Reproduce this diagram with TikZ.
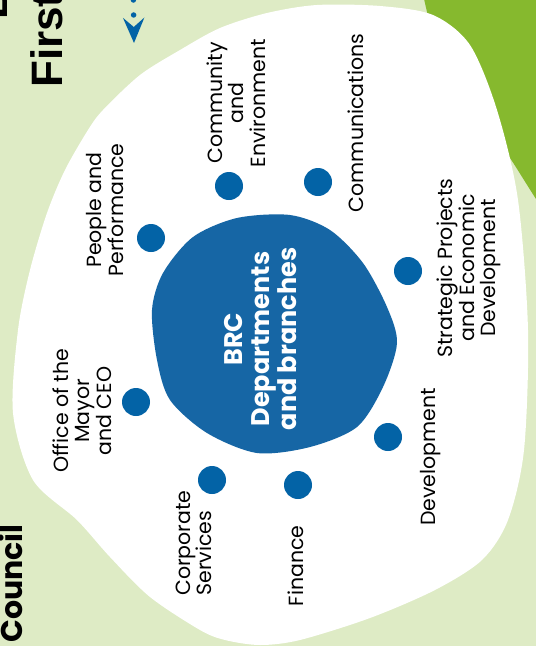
\documentclass[tikz,border=0pt]{standalone}
\usepackage{fontspec}
\setmainfont{Poppins}
\newfontfamily\headfont{Liberation Sans}
\usetikzlibrary{arrows.meta}
\definecolor{bggreen}{RGB}{222,235,197}
\definecolor{leafgreen}{RGB}{134,185,46}
\definecolor{brcblue}{RGB}{22,102,165}
\definecolor{dotblue}{RGB}{3,99,166}

\begin{document}
\begin{tikzpicture}[x=1pt,y=-1pt,
  dept/.style={rotate=90,align=center,inner sep=0pt,font=\fontsize{20.5}{21.5}\selectfont},
  deptdot/.style={circle,fill=dotblue,minimum size=28pt,inner sep=0pt},
  heading/.style={rotate=90,anchor=base west,inner sep=0pt,font=\headfont\fontsize{44}{50}\bfseries}]
\clip (0,0) rectangle (536,646);
\fill [bggreen] (0,0) rectangle (536,646);
\fill [leafgreen] plot[smooth] coordinates {(420,-20) (432,30) (452,70) (480,115) (510,158) (540,205) (560,230)} -- (560,-20) -- cycle;
\fill [white] plot[smooth cycle] coordinates {(317,5) (380,6) (433,15) (470,45) (497,110) (518,200) (528,330) (524,450) (508,520) (482,560) (435,590) (370,618) (300,640) (260,645) (225,640) (200,630) (150,597) (110,557) (77,520) (33,480) (13,413) (18,330) (30,270) (47,213) (65,170) (88,130) (103,110) (140,75) (180,50) (220,28) (267,13)};
\fill [brcblue] plot[smooth cycle] coordinates {(290,215) (330,230) (363,263) (387,307) (397,343) (383,387) (357,427) (310,447) (257,453) (207,433) (170,400) (157,360) (152,310) (163,273) (193,237) (237,218)};

\node[heading] (bline) at (7,20) {B};
\node[heading] (first) at (62,88) {First};
\node[rotate=90,anchor=base west,inner sep=0pt,font=\fontsize{30}{32}\bfseries] (council) at (23,643) {Council};

\coordinate (arrowtop) at (133,-30);
\coordinate (arrowtip) at (134,43);
\draw [dotblue,line width=5.5pt,line cap=round,dash pattern=on 0pt off 15pt,-{Stealth[length=25pt,width=21pt,inset=9pt]}] (arrowtop) -- (arrowtip);

\node[rotate=90,align=center,inner sep=0pt,text=white,font=\fontsize{25.5}{27}\bfseries] (brc) at (261,339) {BRC\\Departments\\and branches};

\node[deptdot] (dpp) at (151,238) {};
\node[deptdot] (dce) at (229,186) {};
\node[deptdot] (dcom) at (318,182) {};
\node[deptdot] (dsp) at (408,271) {};
\node[deptdot] (ddev) at (388,437) {};
\node[deptdot] (dfin) at (298,485) {};
\node[deptdot] (dcs) at (212,480) {};
\node[deptdot] (dmc) at (136,402) {};

\node[dept] (pp) at (105,210) {People and\\Performance};
\node[dept] (ce) at (236,103) {Community\\and\\Environment};
\node[dept] (com) at (356,123) {Communications};
\node[dept] (sp) at (469,268) {Strategic Projects\\and Economic\\Development};
\node[dept] (dev) at (431,457) {Development};
\node[dept] (fin) at (296,566) {Finance};
\node[dept,align=left] (cs) at (194,543) {Corporate\\Services};
\node[dept] (mc) at (82,411) {Office of the\\Mayor\\and CEO};
\end{tikzpicture}
\end{document}
